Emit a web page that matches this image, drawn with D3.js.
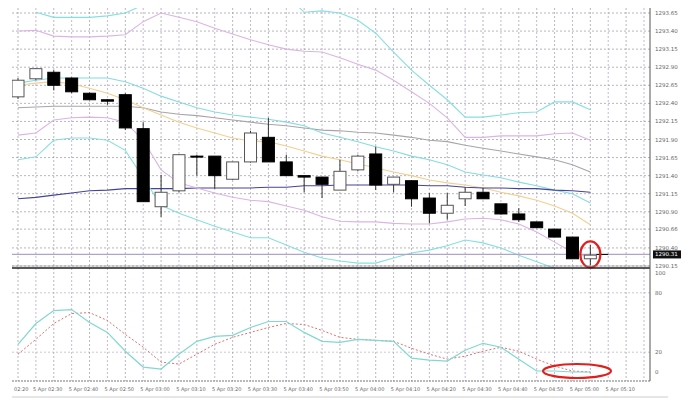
<!DOCTYPE html>
<html><head><meta charset="utf-8">
<script src="https://cdn.jsdelivr.net/npm/d3@7"></script>
<style>body{margin:0;background:#fff}svg{display:block}text{font-family:"DejaVu Sans",sans-serif;fill:#666}</style>
</head><body><svg id="c" width="700" height="400"></svg>
<script>
const times = ["02:20","02:25","02:30","02:35","02:40","02:45","02:50","02:55","03:00","03:05","03:10","03:15","03:20","03:25","03:30","03:35","03:40","03:45","03:50","03:55","04:00","04:05","04:10","04:15","04:20","04:25","04:30","04:35","04:40","04:45","04:50","04:55","05:00"];
const open  = [1292.49,1292.74,1292.83,1292.75,1292.54,1292.45,1292.52,1292.05,1290.97,1291.19,1291.67,1291.67,1291.35,1291.59,1291.93,1291.59,1291.40,1291.38,1291.20,1291.48,1291.70,1291.28,1291.33,1291.09,1290.88,1291.08,1291.17,1291.01,1290.87,1290.76,1290.66,1290.55,1290.25];
const high  = [1292.75,1292.89,1292.86,1292.76,1292.55,1292.46,1292.54,1292.14,1291.41,1291.69,1291.69,1291.67,1291.59,1292.02,1292.20,1291.69,1291.40,1291.38,1291.62,1291.69,1291.80,1291.38,1291.33,1291.16,1291.16,1291.24,1291.23,1291.01,1290.95,1290.76,1290.66,1290.55,1290.44];
const low   = [1292.46,1292.72,1292.58,1292.54,1292.45,1292.38,1292.03,1291.04,1290.83,1291.17,1291.40,1291.22,1291.34,1291.58,1291.59,1291.40,1291.17,1291.09,1291.20,1291.46,1291.20,1291.17,1290.97,1290.74,1290.79,1290.98,1291.08,1290.86,1290.76,1290.68,1290.55,1290.25,1290.16];
const close = [1292.72,1292.88,1292.65,1292.56,1292.45,1292.43,1292.06,1291.04,1291.17,1291.69,1291.66,1291.40,1291.59,1291.99,1291.59,1291.40,1291.38,1291.28,1291.46,1291.67,1291.27,1291.38,1291.08,1290.88,1290.99,1291.17,1291.08,1290.87,1290.79,1290.68,1290.55,1290.25,1290.30];
const bandUpperCyan = [null,1293.66,1293.59,1293.59,1293.59,1293.61,1293.65,1293.76,1293.9,1293.9,1293.9,1293.9,1293.9,1293.9,1293.9,1293.9,1293.66,1293.68,1293.65,1293.55,1293.37,1293.11,1292.86,1292.65,1292.45,1292.21,1292.21,1292.24,1292.27,1292.28,1292.42,1292.42,1292.31];
const bandUpperPurple = [1293.40,1293.41,1293.33,1293.32,1293.32,1293.33,1293.35,1293.53,1293.65,1293.59,1293.53,1293.44,1293.36,1293.28,1293.21,1293.15,1293.12,1293.11,1293.03,1292.94,1292.86,1292.72,1292.56,1292.40,1292.20,1291.93,1291.93,1291.95,1291.95,1291.95,1291.98,1291.99,1291.89];
const maGrey = [1292.34,1292.35,1292.36,1292.36,1292.36,1292.36,1292.36,1292.34,1292.28,1292.25,1292.23,1292.20,1292.17,1292.14,1292.11,1292.09,1292.06,1292.03,1292.02,1292.00,1291.99,1291.96,1291.93,1291.89,1291.87,1291.82,1291.78,1291.74,1291.70,1291.66,1291.62,1291.55,1291.45];
const maCyan = [1292.68,1292.72,1292.75,1292.75,1292.75,1292.75,1292.70,1292.61,1292.50,1292.42,1292.34,1292.28,1292.24,1292.21,1292.18,1292.14,1292.09,1291.99,1291.93,1291.87,1291.80,1291.74,1291.67,1291.62,1291.55,1291.45,1291.41,1291.37,1291.31,1291.26,1291.20,1291.15,1291.02];
const maOrange = [1292.65,1292.68,1292.70,1292.67,1292.61,1292.54,1292.45,1292.34,1292.24,1292.14,1292.06,1291.99,1291.92,1291.88,1291.87,1291.81,1291.74,1291.67,1291.62,1291.56,1291.51,1291.45,1291.40,1291.34,1291.30,1291.27,1291.23,1291.17,1291.12,1291.06,1290.98,1290.88,1290.72];
const maNavy = [1291.08,1291.10,1291.13,1291.16,1291.19,1291.20,1291.22,1291.22,1291.22,1291.22,1291.23,1291.23,1291.23,1291.23,1291.24,1291.24,1291.26,1291.26,1291.27,1291.27,1291.27,1291.27,1291.27,1291.26,1291.26,1291.24,1291.23,1291.23,1291.22,1291.22,1291.20,1291.19,1291.17];
const bandLowerPurple = [1291.96,1291.99,1292.17,1292.20,1292.21,1292.20,1292.14,1291.89,1291.48,1291.30,1291.23,1291.16,1291.10,1291.06,1291.04,1290.98,1290.92,1290.83,1290.77,1290.76,1290.76,1290.74,1290.73,1290.73,1290.76,1290.80,1290.81,1290.79,1290.73,1290.62,1290.48,1290.34,1290.26];
const bandLowerCyan = [1291.62,1291.66,1291.89,1291.92,1291.92,1291.89,1291.75,1291.37,1290.99,1290.88,1290.79,1290.70,1290.62,1290.54,1290.54,1290.44,1290.34,1290.26,1290.22,1290.19,1290.19,1290.26,1290.33,1290.37,1290.43,1290.51,1290.47,1290.40,1290.30,1290.21,1290.12,1290.04,1289.96];
const stochMain = [28,49,62,63,50,40,21,5,3,18,31,36,37,45,51,51,40,31,30,33,32,31,14,12,11,22,29,25,13,1,1,0,0];
const stochSignal = [18,33,49,59,60,52,38,25,10,8,18,28,35,40,45,49,48,42,35,33,32,31,24,18,13,16,21,25,21,13,6,1,0];
const priceTicks = ["1293.65","1293.40","1293.15","1292.90","1292.65","1292.40","1292.15","1291.90","1291.65","1291.40","1291.15","1290.90","1290.66","1290.40","1290.15"];
const stochTicks = [100,80,20,0];
const xLabels = ["02:20","5 Apr 02:30","5 Apr 02:40","5 Apr 02:50","5 Apr 03:00","5 Apr 03:10","5 Apr 03:20","5 Apr 03:30","5 Apr 03:40","5 Apr 03:50","5 Apr 04:00","5 Apr 04:10","5 Apr 04:20","5 Apr 04:30","5 Apr 04:40","5 Apr 04:50","5 Apr 05:00","5 Apr 05:10"];
const currentPrice = 1290.31;

const svg = d3.select("#c");
const L=12, R=650, T=8, MID=268, B=381;
const x = d3.scaleLinear().domain([0,35]).range([18,644]);
const y = d3.scaleLinear().domain([1290.15,1293.65]).range([266,13]);
const ys = d3.scaleLinear().domain([0,100]).range([372,273]);

const g = svg.append("g");
priceTicks.forEach(t=>g.append("line").attr("x1",L).attr("x2",R).attr("y1",y(+t)).attr("y2",y(+t)).attr("stroke","#9a92a8").attr("stroke-dasharray","2,2").attr("stroke-width",0.7));
[80,20].forEach(t=>g.append("line").attr("x1",L).attr("x2",R).attr("y1",ys(t)).attr("y2",ys(t)).attr("stroke","#b8b0c4").attr("stroke-dasharray","2,2").attr("stroke-width",0.7));
d3.range(0,36).forEach(i=>g.append("line").attr("x1",x(i)).attr("x2",x(i)).attr("y1",T).attr("y2",B).attr("stroke",i%2?"#b09ac0":"#9a9aa0").attr("stroke-dasharray","2,2").attr("stroke-width",0.7));

svg.append("clipPath").attr("id","cu").append("rect").attr("x",L).attr("y",T).attr("width",R-L).attr("height",MID-T);
const up = svg.append("g").attr("clip-path","url(#cu)");
const line = d3.line().defined(d=>d!=null).x((d,i)=>x(i)).y(d=>y(d));
[[bandUpperCyan,"#86e0e0"],[bandUpperPurple,"#dcb4e4"],[maGrey,"#aaa4aa"],[maCyan,"#86dce0"],[maOrange,"#f2d090"],[maNavy,"#44449a"],[bandLowerPurple,"#dcb4e4"],[bandLowerCyan,"#86e0e0"]]
 .forEach(([d,c])=>up.append("path").attr("d",line(d)).attr("fill","none").attr("stroke",c).attr("stroke-width",1.1));
up.append("line").attr("x1",L).attr("x2",R).attr("y1",y(currentPrice)).attr("y2",y(currentPrice)).attr("stroke","#b0a4c8").attr("stroke-width",1.2);
up.append("line").attr("x1",x(32)+6).attr("x2",x(33)).attr("y1",y(currentPrice)).attr("y2",y(currentPrice)).attr("stroke","#000").attr("stroke-width",1);

const bw=12;
times.forEach((t,i)=>{
  const cx=x(i), bull=close[i]>=open[i];
  up.append("line").attr("x1",cx).attr("x2",cx).attr("y1",y(high[i])).attr("y2",y(low[i])).attr("stroke","#333").attr("stroke-width",1);
  const top=y(Math.max(open[i],close[i])), bot=y(Math.min(open[i],close[i]));
  up.append("rect").attr("x",cx-bw/2).attr("y",top).attr("width",bw).attr("height",Math.max(1,bot-top))
    .attr("fill",bull?"#fff":"#000").attr("stroke",bull?"#555":"#000").attr("stroke-width",1);
});
svg.append("ellipse").attr("cx",x(32)).attr("cy",y(currentPrice)).attr("rx",10).attr("ry",13).attr("fill","none").attr("stroke","#e0201c").attr("stroke-width",2.2);

const sl = d3.line().x((d,i)=>x(i)).y(d=>ys(d));
svg.append("path").attr("d",sl(stochSignal)).attr("fill","none").attr("stroke","#e07070").attr("stroke-width",1).attr("stroke-dasharray","2,2");
svg.append("path").attr("d",sl(stochMain)).attr("fill","none").attr("stroke","#80d8d0").attr("stroke-width",1.2);
svg.append("ellipse").attr("cx",577).attr("cy",371).attr("rx",34).attr("ry",7).attr("fill","none").attr("stroke","#e0201c").attr("stroke-width",2.2);

svg.append("line").attr("x1",L).attr("x2",R).attr("y1",MID).attr("y2",MID).attr("stroke","#222").attr("stroke-width",1.5);
svg.append("line").attr("x1",L).attr("x2",R).attr("y1",MID-2).attr("y2",MID-2).attr("stroke","#888").attr("stroke-width",0.6);
svg.append("line").attr("x1",R).attr("x2",R).attr("y1",T).attr("y2",B).attr("stroke","#555").attr("stroke-width",1);
svg.append("line").attr("x1",L).attr("x2",R).attr("y1",B).attr("y2",B).attr("stroke","#777").attr("stroke-width",1).attr("stroke-dasharray","2,1");

priceTicks.forEach(t=>svg.append("text").attr("x",R+5).attr("y",y(+t)+2).attr("font-size",5.5).text(t));
svg.append("rect").attr("x",R+3).attr("y",y(currentPrice)-4).attr("width",28).attr("height",8).attr("fill","#111");
svg.append("text").attr("x",R+5).attr("y",y(currentPrice)+2).attr("font-size",5.5).style("fill","#fff").text(currentPrice.toFixed(2));
stochTicks.forEach(t=>svg.append("text").attr("x",R+5).attr("y",ys(t)+2).attr("font-size",5.5).text(t));
xLabels.forEach((t,k)=>svg.append("text").attr("x",k===0?14:x(2*k)-6).attr("y",391).attr("font-size",5).attr("text-anchor",k===0?"start":"middle").text(t));
svg.append("line").attr("x1",L).attr("x2",668).attr("y1",397).attr("y2",397).attr("stroke","#ccc");
</script></body></html>
